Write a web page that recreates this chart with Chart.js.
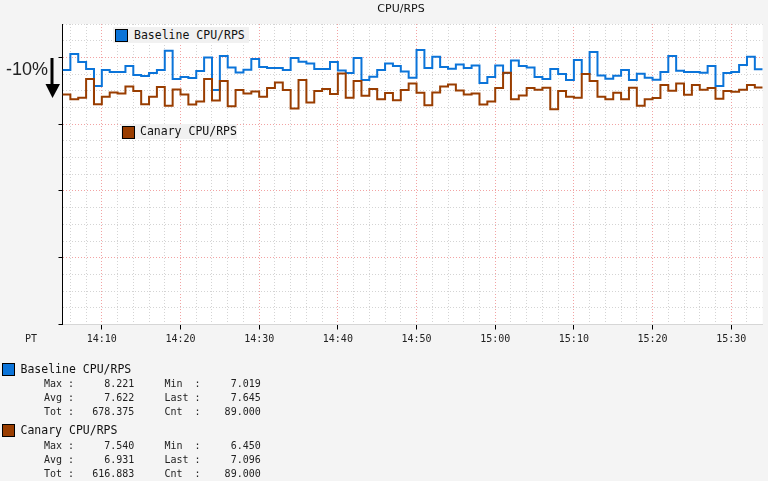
<!DOCTYPE html>
<html>
<head>
<meta charset="utf-8">
<title>CPU/RPS</title>
<script src="https://cdn.jsdelivr.net/npm/chart.js@4.4.1/dist/chart.umd.min.js"></script>
<style>
  html, body { margin: 0; padding: 0; background: #f4f4f4; }
  #wrap { position: relative; width: 768px; height: 481px; overflow: hidden; }
  #cpu-chart { position: absolute; left: 0; top: 0; }
  .abs { position: absolute; white-space: pre; color: #111; }
  .mono { font-family: "DejaVu Sans Mono", monospace; }
  .title { top: 2px; left: 351px; width: 100px; text-align: center; font: 11px/14px "DejaVu Sans", sans-serif; }
  .drop { left: 6px; top: 59px; font: 18px/20px "Liberation Sans", Arial, sans-serif; color: #222; }
  .arrow { position: absolute; left: 43px; top: 56px; }
  .pt { left: 25px; top: 333px; font-size: 10px; line-height: 12px; color: #222; }
  .swatch { position: absolute; width: 11px; height: 11px; border: 1px solid #000; }
  .tag { position: absolute; background: #f1f1f1; }
  .tag span { position: absolute; white-space: pre; font-size: 11.5px; color: #111; }
  .leg-name { font-size: 11.5px; line-height: 14px; }
  .leg-stats { font-size: 10px; line-height: 14px; color: #222; }
</style>
</head>
<body>
<div id="wrap">
  <canvas id="cpu-chart" width="768" height="481"></canvas>
  <div class="abs title">CPU/RPS</div>
  <div class="abs drop">-10%</div>
  <svg class="arrow" width="20" height="45">
    <line x1="9" y1="2" x2="9" y2="30" stroke="#000" stroke-width="3" />
    <polygon points="2.5,28 17,28 9.5,42" fill="#000" />
  </svg>
  <div class="abs mono pt">PT</div>

  <div class="tag mono" id="tag-baseline" style="left:113px;top:27px;width:136px;height:16px">
    <div class="swatch" style="left:2px;top:2px"></div>
    <span style="left:21px;top:0;line-height:16px"></span>
  </div>
  <div class="tag mono" id="tag-canary" style="left:121px;top:124px;width:116px;height:15px">
    <div class="swatch" style="left:1px;top:1.5px"></div>
    <span style="left:19px;top:0;line-height:15px"></span>
  </div>

  <div class="swatch" id="leg-box-baseline" style="left:2px;top:362.5px"></div>
  <div class="abs mono leg-name" id="leg-name-baseline" style="left:20.5px;top:362px"></div>
  <div class="abs mono leg-stats" id="leg-stats-baseline" style="left:44px;top:377px"></div>
  <div class="swatch" id="leg-box-canary" style="left:2px;top:424px"></div>
  <div class="abs mono leg-name" id="leg-name-canary" style="left:20.5px;top:423px"></div>
  <div class="abs mono leg-stats" id="leg-stats-canary" style="left:44px;top:438.5px"></div>
</div>

<script>
// one value per minute, 14:05 .. 15:33
var startTime = "14:05";
var tickLabels = ["14:10", "14:20", "14:30", "14:40", "14:50", "15:00", "15:10", "15:20", "15:30"];

var baseline = [
  7.62, 8.10, 7.86, 7.65, 7.14, 7.62, 7.56, 7.56, 7.74, 7.47,
  7.44, 7.53, 7.62, 8.20, 7.35, 7.41, 7.38, 7.59, 8.00, 7.02,
  8.04, 7.70, 7.55, 7.63, 7.95, 7.71, 7.68, 7.68, 7.62, 7.98,
  7.87, 7.82, 7.65, 7.65, 7.86, 7.61, 7.53, 7.98, 7.32, 7.42,
  7.62, 7.82, 7.74, 7.58, 7.39, 8.221, 7.68, 8.02, 7.71, 7.66,
  7.79, 7.68, 7.76, 7.23, 7.41, 7.76, 7.53, 7.91, 7.74, 7.70,
  7.41, 7.35, 7.65, 7.50, 7.32, 7.92, 7.50, 8.16, 7.46, 7.36,
  7.45, 7.62, 7.32, 7.51, 7.39, 7.33, 7.56, 8.04, 7.60, 7.56,
  7.56, 7.54, 7.74, 7.14, 7.53, 7.56, 7.77, 8.02, 7.645,
];

var canary = [
  6.89, 6.75, 6.79, 7.35, 6.60, 6.82, 6.95, 6.92, 7.13, 6.99,
  6.60, 6.82, 7.11, 6.55, 7.04, 6.89, 6.59, 6.68, 7.35, 6.71,
  7.29, 6.54, 7.02, 6.92, 6.98, 6.82, 7.08, 7.25, 7.02, 6.47,
  7.32, 6.65, 6.99, 7.05, 6.90, 7.52, 6.79, 7.29, 6.85, 7.05,
  6.75, 6.93, 6.72, 7.02, 7.22, 6.94, 6.57, 6.95, 7.13, 7.19,
  7.01, 6.89, 6.92, 6.59, 6.68, 7.08, 7.54, 6.75, 6.86, 7.08,
  7.03, 7.09, 6.45, 6.99, 6.82, 6.79, 7.50, 7.29, 6.82, 6.75,
  6.94, 6.75, 7.09, 6.55, 6.75, 6.78, 7.17, 7.00, 7.22, 6.88,
  7.17, 7.03, 7.08, 6.76, 6.99, 6.97, 7.03, 7.17, 7.096,
];

// max, min, avg, last, tot, cnt as printed under the chart
var baselineStats = ["8.221", "7.019", "7.622", "7.645", "678.375", "89.000"];
var canaryStats = ["7.540", "6.450", "6.931", "7.096", "616.883", "89.000"];

var baselineName = "Baseline CPU/RPS";
var canaryName = "Canary CPU/RPS";
var baselineColor = "#0b74d9";
var canaryColor = "#993d00";

function clockMinutes(t) {
  var p = t.split(":");
  return parseInt(p[0]) * 60 + parseInt(p[1]);
}
function toMinutes(t) {
  return clockMinutes(t) - clockMinutes(startTime);
}

// each value holds for one minute, so repeat the last one at the end
function toSteps(values) {
  var pts = values.map(function (v, i) {
    return { x: i, y: v };
  });
  pts.push({ x: values.length, y: values[values.length - 1] });
  return pts;
}

var majorX = tickLabels.map(toMinutes);
var gridX = [];
for (var m = 1; m < baseline.length - 1; m += 2) gridX.push(m);

// white plot area
var plotBackground = {
  id: "plotBackground",
  beforeDraw: function (chart) {
    var a = chart.chartArea;
    chart.ctx.save();
    chart.ctx.fillStyle = "#ffffff";
    chart.ctx.fillRect(a.left, a.top, a.right - a.left, a.bottom - a.top);
    chart.ctx.restore();
  },
};

// chart
var ctx = document.getElementById("cpu-chart");
var cpuChart = new Chart(ctx, {
  type: "line",
  data: {
    datasets: [
      {
        label: canaryName,
        data: toSteps(canary),
        borderColor: canaryColor,
        borderWidth: 2,
        stepped: "before",
        pointRadius: 0,
        fill: false,
        borderJoinStyle: "miter",
      },
      {
        label: baselineName,
        data: toSteps(baseline),
        borderColor: baselineColor,
        borderWidth: 2,
        stepped: "before",
        pointRadius: 0,
        fill: false,
        borderJoinStyle: "miter",
      },
    ],
  },
  options: {
    responsive: false,
    animation: false,
    events: [],
    layout: { padding: { top: 24, right: 5.3, bottom: 136.5, left: 0 } },
    plugins: {
      legend: { display: false },
      title: { display: false },
      tooltip: { enabled: false },
    },
    scales: {
      x: {
        type: "linear",
        min: 0,
        max: baseline.length,
        afterBuildTicks: function (axis) {
          axis.ticks = gridX.map(function (v) {
            return { value: v };
          });
        },
        afterFit: function (axis) {
          axis.height = 20;
        },
        grid: {
          color: function (c) {
            return majorX.indexOf(c.tick.value) >= 0 ? "#f2a3a3" : "#d4d4d4";
          },
          tickColor: function (c) {
            return majorX.indexOf(c.tick.value) >= 0 ? "#000" : "rgba(0,0,0,0)";
          },
          tickLength: 5,
        },
        border: { color: "#d6d6d6", dash: [1, 2] },
        ticks: {
          autoSkip: false,
          maxRotation: 0,
          padding: 4,
          color: "#222",
          font: { family: "DejaVu Sans Mono", size: 10 },
          callback: function (value) {
            var i = majorX.indexOf(value);
            return i >= 0 ? tickLabels[i] : "";
          },
        },
      },
      y: {
        min: 0,
        max: 9,
        afterFit: function (axis) {
          axis.width = 62.5;
        },
        grid: {
          color: function (c) {
            if (c.tick.value === 0) return "rgba(0,0,0,0)";
            return c.tick.value % 2 === 0 ? "#f2a3a3" : "#d4d4d4";
          },
          tickColor: function (c) {
            return c.tick.value % 2 === 0 ? "#000" : "rgba(0,0,0,0)";
          },
          tickLength: 4,
        },
        border: { color: "#000", dash: [1, 2] },
        ticks: { display: false, stepSize: 0.5 },
      },
    },
  },
  plugins: [plotBackground],
});

// labels and legend
function statLine(a, av, b, bv) {
  return a.padEnd(4) + ":" + av.padStart(10) + "     " + b.padEnd(5) + ":" + bv.padStart(10);
}
function statBlock(s) {
  return [
    statLine("Max", s[0], "Min", s[1]),
    statLine("Avg", s[2], "Last", s[3]),
    statLine("Tot", s[4], "Cnt", s[5]),
  ].join("\n");
}

document.querySelector("#tag-baseline span").textContent = baselineName;
document.querySelector("#tag-baseline .swatch").style.background = baselineColor;
document.querySelector("#tag-canary span").textContent = canaryName;
document.querySelector("#tag-canary .swatch").style.background = canaryColor;

document.getElementById("leg-box-baseline").style.background = baselineColor;
document.getElementById("leg-name-baseline").textContent = baselineName;
document.getElementById("leg-stats-baseline").textContent = statBlock(baselineStats);
document.getElementById("leg-box-canary").style.background = canaryColor;
document.getElementById("leg-name-canary").textContent = canaryName;
document.getElementById("leg-stats-canary").textContent = statBlock(canaryStats);
</script>
</body>
</html>
